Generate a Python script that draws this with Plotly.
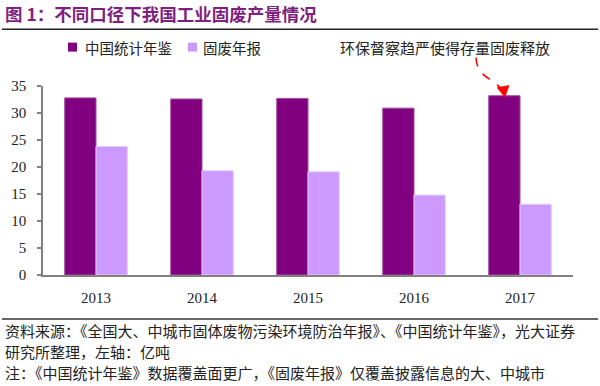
import plotly.graph_objects as go

# ---- data ----
years = ["2013", "2014", "2015", "2016", "2017"]
series_names = ["中国统计年鉴", "固废年报"]
yearbook = [32.8, 32.6, 32.7, 30.9, 33.2]
annual_report = [23.8, 19.3, 19.1, 14.8, 13.1]
y_ticks = [0, 5, 10, 15, 20, 25, 30, 35]

title_text = "图 1：不同口径下我国工业固废产量情况"
note_text = "环保督察趋严使得存量固废释放"
foot_lines = [
    "资料来源：《全国大、中城市固体废物污染环境防治年报》、《中国统计年鉴》，光大证券",
    "研究所整理，左轴：亿吨",
    "注：《中国统计年鉴》数据覆盖面更广，《固废年报》仅覆盖披露信息的大、中城市",
]

# ---- styling ----
C_DARK = "#800080"
C_LIGHT = "#CC99FF"
CJK = "Noto Sans CJK SC"
SERIF = "Liberation Serif"

W, H = 600, 386
L, R, T, B = 43, 27, 85.5, 111
PW, PH = W - L - R, H - T - B


def px(x):
    return (x - L) / PW


def py(y):
    return (H - B - y) / PH


fig = go.Figure()
fig.add_trace(go.Bar(x=years, y=yearbook, name=series_names[0],
                     marker=dict(color=C_DARK, line=dict(color="#A24FA2", width=1))))
fig.add_trace(go.Bar(x=years, y=annual_report, name=series_names[1],
                     marker=dict(color=C_LIGHT, line=dict(color="#E3CCFF", width=1))))

shapes = []
annotations = []

# title + rule
annotations.append(dict(text=f"<b>{title_text}</b>", x=px(3), y=py(13), xref="paper", yref="paper",
                        xanchor="left", yanchor="middle", showarrow=False,
                        font=dict(family=CJK, size=17.5, color="#7F1F7F")))
shapes.append(dict(type="line", xref="paper", yref="paper", x0=px(2), x1=px(598), y0=py(28.5), y1=py(28.5),
                   line=dict(color="#222222", width=1.5)))

# manual legend
leg = [(68, 83, C_DARK, series_names[0]), (188, 201, C_LIGHT, series_names[1])]
for sx, tx, col, name in leg:
    shapes.append(dict(type="rect", xref="paper", yref="paper", x0=px(sx), x1=px(sx + 9),
                       y0=py(51), y1=py(42), fillcolor=col, line=dict(width=0)))
    annotations.append(dict(text=name, x=px(tx), y=py(47), xref="paper", yref="paper",
                            xanchor="left", yanchor="middle", showarrow=False,
                            font=dict(family=CJK, size=14.5, color="#222222")))

# callout text
annotations.append(dict(text=note_text, x=px(338), y=py(47), xref="paper", yref="paper",
                        xanchor="left", yanchor="middle", showarrow=False,
                        font=dict(family=CJK, size=15, color="#222222")))
# dashed curved arrow
shapes.append(dict(type="path", xref="paper", yref="paper",
                   path=f"M {px(476)},{py(57)} C {px(477)},{py(76)} {px(490)},{py(76)} {px(501)},{py(88)}",
                   line=dict(color="#FF0000", width=1.6, dash="dash")))
shapes.append(dict(type="path", xref="paper", yref="paper",
                   path=f"M {px(497)},{py(87)} L {px(509)},{py(85)} L {px(505)},{py(97)} Z",
                   fillcolor="#FF0000", line=dict(color="#FF0000", width=0.5)))

# bottom rule + footnotes
shapes.append(dict(type="line", xref="paper", yref="paper", x0=px(2), x1=px(598), y0=py(319), y1=py(319),
                   line=dict(color="#333333", width=1.5)))
for line, yy in zip(foot_lines, [331, 352, 373]):
    annotations.append(dict(text=line, x=px(3), y=py(yy), xref="paper", yref="paper",
                            xanchor="left", yanchor="middle", showarrow=False,
                            font=dict(family=CJK, size=15, color="#222222")))

fig.update_layout(
    width=W, height=H,
    margin=dict(l=L, r=R, t=T, b=B),
    paper_bgcolor="white", plot_bgcolor="white",
    barmode="group", bargap=0.41, bargroupgap=0,
    showlegend=False,
    shapes=shapes, annotations=annotations,
    font=dict(family=SERIF, size=15, color="#222222"),
)
fig.update_xaxes(showline=True, linecolor="#808080", linewidth=1.5, ticks="", showgrid=False,
                 automargin=False,
                 tickfont=dict(family=SERIF, size=15, color="#222222"), ticklabelstandoff=8)
fig.update_yaxes(range=[0, 35], tickvals=y_ticks, showline=True, linecolor="#808080", linewidth=1.5,
                 ticks="outside", ticklen=4, tickcolor="#808080", tickwidth=1.5, showgrid=False,
                 zeroline=False, automargin=False,
                 tickfont=dict(family=SERIF, size=15, color="#222222"),
                 ticklabelstandoff=8)

fig.write_html("out.html", config={"displayModeBar": False},
               post_script="document.body.style.margin='0';")
